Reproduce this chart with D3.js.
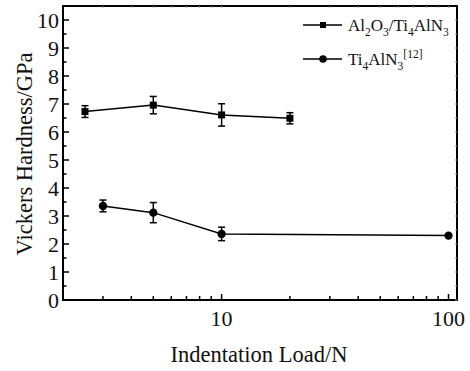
<!DOCTYPE html>
<html>
<head>
<meta charset="utf-8">
<script src="https://cdn.jsdelivr.net/npm/d3@7"></script>
<style>
  body { margin: 0; background: #fff; }
  text { font-family: "Liberation Serif", "Times New Roman", serif; fill: #111; }
</style>
</head>
<body>
<svg id="chart" width="470" height="371"></svg>
<script>
// data
var loadsA = [2.5, 5, 10, 20];
var hardA  = [6.73, 6.96, 6.61, 6.49];
var errA   = [0.21, 0.31, 0.40, 0.20];

var loadsB = [3, 5, 10, 100];
var hardB  = [3.36, 3.12, 2.36, 2.30];
var errB   = [0.21, 0.36, 0.24, 0];

var xTicks = [10, 100];
var yTicks = [0, 1, 2, 3, 4, 5, 6, 7, 8, 9, 10];

var svg = d3.select("#chart");
var pL = 63, pR = 457, pT = 6, pB = 300;

var x = d3.scaleLog().domain([2, 109]).range([pL, pR]);
var y = d3.scaleLinear().domain([0, 10.5]).range([pB, pT]);

// frame
svg.append("rect")
    .attr("x", pL).attr("y", pT)
    .attr("width", pR - pL).attr("height", pB - pT)
    .attr("fill", "none").attr("stroke", "#000").attr("stroke-width", 2);

// ticks, drawn inward
var minorX = [3, 4, 5, 6, 7, 8, 9, 20, 30, 40, 50, 60, 70, 80, 90];
var minorY = d3.range(0.5, 10.5, 1);

function tickLines( sel, vals, len, isX, mirror ) {
    sel.selectAll(null).data(vals).enter().append("line")
        .attr("x1", d => isX ? x(d) : (mirror ? pR : pL))
        .attr("x2", d => isX ? x(d) : (mirror ? pR - len : pL + len))
        .attr("y1", d => isX ? (mirror ? pT : pB) : y(d))
        .attr("y2", d => isX ? (mirror ? pT + len : pB - len) : y(d))
        .attr("stroke", mirror ? "#999" : "#000")
        .attr("stroke-width", mirror ? 1 : 1.5);
}
var g = svg.append("g");
tickLines(g, xTicks, 6, true, false);
tickLines(g, minorX, 4, true, false);
tickLines(g, yTicks, 6, false, false);
tickLines(g, minorY, 3.5, false, false);
tickLines(g, xTicks.concat(minorX), 2, true, true);
tickLines(g, yTicks.concat(minorY), 2, false, true);

// tick labels
svg.append("g").selectAll("text").data(xTicks).enter().append("text")
    .attr("x", d => x(d)).attr("y", 326)
    .attr("text-anchor", "middle").attr("font-size", 22)
    .text(d => d);
svg.append("g").selectAll("text").data(yTicks).enter().append("text")
    .attr("x", 59).attr("y", d => y(d) + 7.5)
    .attr("text-anchor", "end").attr("font-size", 22)
    .text(d => d);

// axis titles
svg.append("text")
    .attr("x", 259).attr("y", 362)
    .attr("text-anchor", "middle").attr("font-size", 22.5)
    .text("Indentation Load/N");
svg.append("text")
    .attr("transform", "translate(32,154) rotate(-90)")
    .attr("text-anchor", "middle").attr("font-size", 22.5)
    .text("Vickers Hardness/GPa");

// series
function series( loads, vals, errs, shape ) {
    var pts = loads.map((d, i) => ({ x: d, y: vals[i], e: errs[i] }));
    var s = svg.append("g");
    s.append("path").datum(pts)
        .attr("fill", "none").attr("stroke", "#000").attr("stroke-width", 1.5)
        .attr("d", d3.line().x(d => x(d.x)).y(d => y(d.y)));
    var eb = s.selectAll(".err").data(pts.filter(d => d.e > 0)).enter().append("g");
    eb.append("line")
        .attr("x1", d => x(d.x)).attr("x2", d => x(d.x))
        .attr("y1", d => y(d.y + d.e)).attr("y2", d => y(d.y - d.e))
        .attr("stroke", "#000").attr("stroke-width", 1.5);
    [1, -1].forEach(function (sgn) {
        eb.append("line")
            .attr("x1", d => x(d.x) - 3.5).attr("x2", d => x(d.x) + 3.5)
            .attr("y1", d => y(d.y + sgn * d.e)).attr("y2", d => y(d.y + sgn * d.e))
            .attr("stroke", "#000").attr("stroke-width", 1.5);
    });
    var sym = d3.symbol().type(shape).size(shape === d3.symbolSquare ? 49 : 55);
    s.selectAll(".m").data(pts).enter().append("path")
        .attr("transform", d => "translate(" + x(d.x) + "," + y(d.y) + ")")
        .attr("d", sym).attr("fill", "#000");
}
series(loadsA, hardA, errA, d3.symbolSquare);
series(loadsB, hardB, errB, d3.symbolCircle);

// legend
function legendRow( yy, shape, size, parts ) {
    var l = svg.append("g");
    l.append("line").attr("x1", 303).attr("x2", 342).attr("y1", yy).attr("y2", yy)
        .attr("stroke", "#000").attr("stroke-width", 1.5);
    l.append("path").attr("transform", "translate(323," + yy + ")")
        .attr("d", d3.symbol().type(shape).size(size)).attr("fill", "#000");
    var t = l.append("text").attr("x", 348).attr("y", yy + 6).attr("font-size", 17);
    parts.forEach(function (p) {
        var ts = t.append("tspan").text(p[0]);
        if (p[1] === "sub") ts.attr("font-size", 11.5).attr("dy", 5);
        else if (p[1] === "sup") ts.attr("font-size", 11.5).attr("dy", -12);
        else if (p[1] === "back") ts.attr("dy", -5);
    });
}
legendRow(25, d3.symbolSquare, 36, [["Al"], ["2", "sub"], ["O", "back"], ["3", "sub"],
    ["/Ti", "back"], ["4", "sub"], ["AlN", "back"], ["3", "sub"]]);
legendRow(59, d3.symbolCircle, 45, [["Ti"], ["4", "sub"], ["AlN", "back"], ["3", "sub"],
    ["[12]", "sup"]]);
</script>
</body>
</html>
